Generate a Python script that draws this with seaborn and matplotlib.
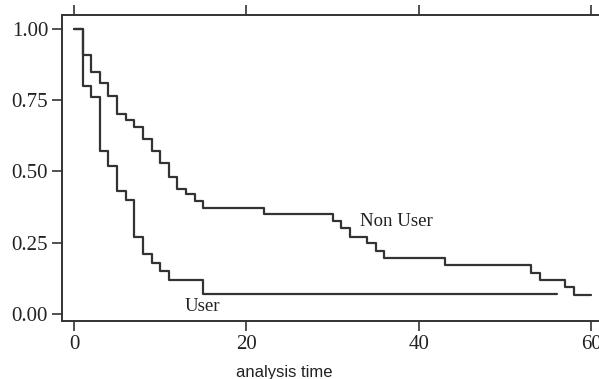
import numpy as np
import pandas as pd
import matplotlib
matplotlib.use("Agg")
import matplotlib.pyplot as plt
import seaborn as sns

# step points (time, survival)
user_time = [0, 1, 2, 3, 4, 5, 6, 7, 8, 9, 10, 11, 15, 56]
user_surv = [1.0, 0.80, 0.76, 0.57, 0.52, 0.43, 0.40, 0.27, 0.21, 0.18, 0.15, 0.12, 0.07, 0.07]

nonuser_time = [0, 1, 2, 3, 4, 5, 6, 7, 8, 9, 10, 11, 12, 13, 14, 15,
                22, 30, 31, 32, 34, 35, 36, 43, 53, 54, 57, 58, 60]
nonuser_surv = [1.0, 0.91, 0.85, 0.81, 0.765, 0.70, 0.68, 0.655, 0.615, 0.57, 0.53, 0.48,
                0.44, 0.42, 0.395, 0.37, 0.35, 0.325, 0.30, 0.27, 0.248, 0.22, 0.195,
                0.17, 0.145, 0.12, 0.094, 0.067, 0.067]

x_ticks = [0, 20, 40, 60]
y_ticks = [0.0, 0.25, 0.5, 0.75, 1.0]
y_ticklabels = ["0.00", "0.25", "0.50", "0.75", "1.00"]

df = pd.concat([
    pd.DataFrame({"time": user_time, "surv": user_surv, "group": "User"}),
    pd.DataFrame({"time": nonuser_time, "surv": nonuser_surv, "group": "Non User"}),
])

sns.set_style("ticks")
plt.rcParams['font.family'] = ['Liberation Serif', 'DejaVu Serif']

fig = plt.figure(figsize=(5.99, 3.79), dpi=100)
ax = fig.add_axes([62/599, 1 - 321/379, 1 - 62/599 - 0.001, (321 - 15)/379])

line_col = "#333333"
sns.lineplot(data=df, x="time", y="surv", hue="group", palette=[line_col, line_col],
             estimator=None, drawstyle="steps-post", linewidth=1.6, legend=False, ax=ax)

ax.set_xlim(-1.39, 60.83)
ax.set_ylim(-0.025, 1.049)
ax.set_xticks(x_ticks)
ax.set_yticks(y_ticks)
ax.set_yticklabels(y_ticklabels)
ax.tick_params(axis="both", labelsize=15, length=7, width=1.2, color=line_col, labelcolor="#222222", pad=3)
ax.tick_params(axis="x", top=True, labeltop=False)
ax.spines["right"].set_visible(False)
for s in ["left", "top", "bottom"]:
    ax.spines[s].set_color(line_col)
    ax.spines[s].set_linewidth(1.4)

ax.set_ylabel("")
ax.set_xlabel("")
fig.text(284/599, 1 - 372/379, "analysis time", ha="center", va="center",
         fontsize=12, family=["Liberation Sans", "DejaVu Sans"], color="#222222")

ax.text(37.4, 0.323, "Non User", ha="center", va="center", fontsize=13.5, color="#222222")
ax.text(14.9, 0.025, "User", ha="center", va="center", fontsize=13.5, color="#222222")

fig.savefig("out.png", dpi=100)
